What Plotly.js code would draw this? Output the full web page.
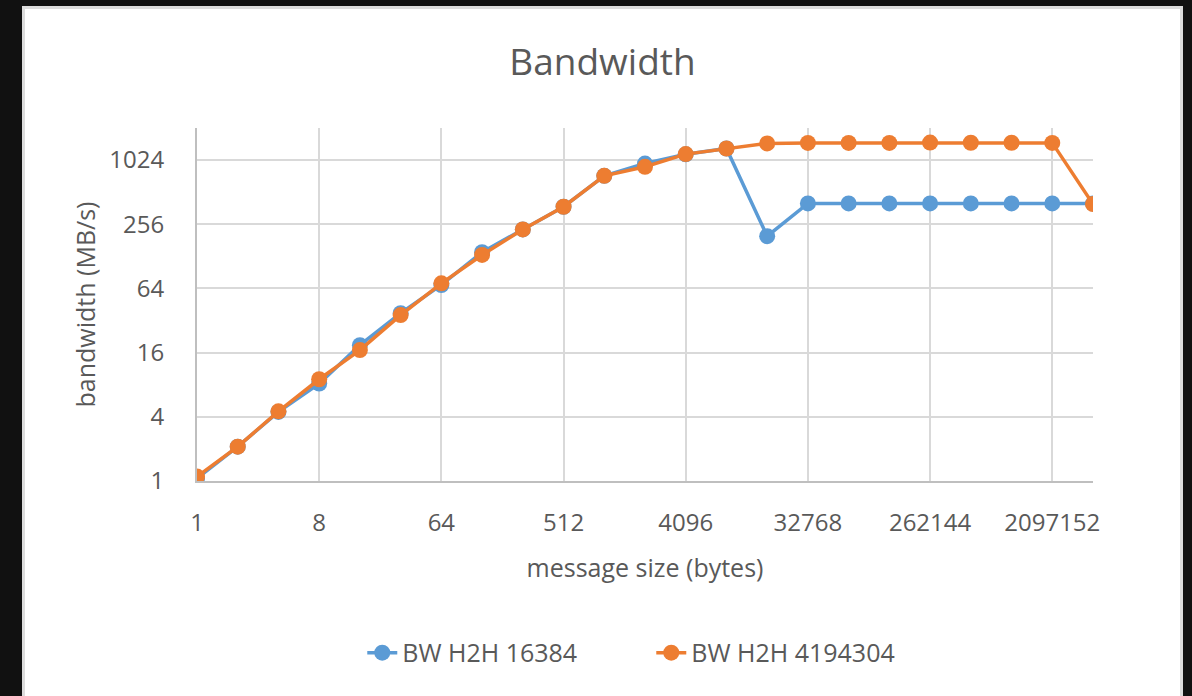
<!DOCTYPE html>
<html>
<head>
<meta charset="utf-8">
<script src="https://cdn.plot.ly/plotly-3.0.1.min.js"></script>
<style>
  html, body { margin: 0; padding: 0; background: #111111; width: 1192px; height: 696px; overflow: hidden; }
  #frame { position: absolute; left: 22px; top: 6px; width: 1155px; height: 700px;
           background: #ffffff; border-left: 3px solid #dcdcdc; border-top: 3px solid #dcdcdc; border-right: 3px solid #dcdcdc; }
  #chart { position: absolute; left: 0; top: 0; width: 1155px; height: 690px; }
</style>
</head>
<body>
<div id="frame"><div id="chart"></div></div>
<script>
// message sizes (bytes)
const messageSizes = [1, 2, 4, 8, 16, 32, 64, 128, 256, 512, 1024, 2048, 4096, 8192,
  16384, 32768, 65536, 131072, 262144, 524288, 1048576, 2097152, 4194304];
// bandwidth (MB/s)
const bwH2H16384 = [1.06, 2.1, 4.45, 8.2, 18.8, 37.5, 69, 140, 229, 374, 729, 950, 1160, 1316,
  198, 402, 402, 402, 402, 402, 402, 402, 400];
const bwH2H4194304 = [1.1, 2.1, 4.5, 9.0, 16.9, 36, 71.5, 132, 229, 374, 729, 886, 1165, 1316,
  1468, 1485, 1485, 1485, 1495, 1490, 1490, 1485, 396];
const seriesNames = ["BW H2H 16384", "BW H2H 4194304"];
const xTickVals = [1, 8, 64, 512, 4096, 32768, 262144, 2097152];
const yTickVals = [1, 4, 16, 64, 256, 1024];

const textColor = "#595959";
const fontFamily = "'Open Sans', 'Noto Sans', sans-serif";

const traces = [
  { x: messageSizes, y: bwH2H16384, name: seriesNames[0], type: "scatter", mode: "lines+markers",
    line: { color: "#5B9BD5", width: 3.5 }, marker: { color: "#5B9BD5", size: 16 } },
  { x: messageSizes, y: bwH2H4194304, name: seriesNames[1], type: "scatter", mode: "lines+markers",
    line: { color: "#ED7D31", width: 3.5 }, marker: { color: "#ED7D31", size: 16 } }
];

const layout = {
  width: 1155, height: 690,
  margin: { l: 172, r: 87, t: 119, b: 218 },
  paper_bgcolor: "#ffffff", plot_bgcolor: "#ffffff",
  font: { family: fontFamily, color: textColor, size: 24 },
  title: { text: "Bandwidth", font: { size: 37, color: textColor, family: fontFamily },
           x: 0.5, xanchor: "center", y: 0.923, yanchor: "middle" },
  xaxis: {
    type: "log", range: [0, Math.log10(4194304)],
    tickvals: xTickVals, ticktext: xTickVals.map(String),
    showgrid: true, gridcolor: "#d9d9d9", gridwidth: 2,
    showline: true, linecolor: "#bfbfbf", linewidth: 2,
    zeroline: false,
    ticks: "outside", ticklen: 19, tickcolor: "rgba(0,0,0,0)",
    tickfont: { size: 24, color: textColor },
    title: { text: "message size (bytes)", font: { size: 25, color: textColor }, standoff: 23 }
  },
  yaxis: {
    type: "log", range: [0, Math.log10(2048)],
    tickvals: yTickVals, ticktext: yTickVals.map(String),
    showgrid: true, gridcolor: "#d9d9d9", gridwidth: 2,
    showline: true, linecolor: "#bfbfbf", linewidth: 2,
    zeroline: false,
    ticks: "outside", ticklen: 26, tickcolor: "rgba(0,0,0,0)",
    tickfont: { size: 24, color: textColor },
    title: { text: "bandwidth (MB/s)", font: { size: 25, color: textColor }, standoff: 7 }
  },
  showlegend: true,
  legend: { orientation: "h", x: 0.507, xanchor: "center", y: -0.487, yanchor: "middle",
            font: { size: 25, color: textColor }, entrywidth: 244, entrywidthmode: "pixels",
            traceorder: "normal" }
};

Plotly.newPlot("chart", traces, layout, { displayModeBar: false, staticPlot: true });
</script>
</body>
</html>
